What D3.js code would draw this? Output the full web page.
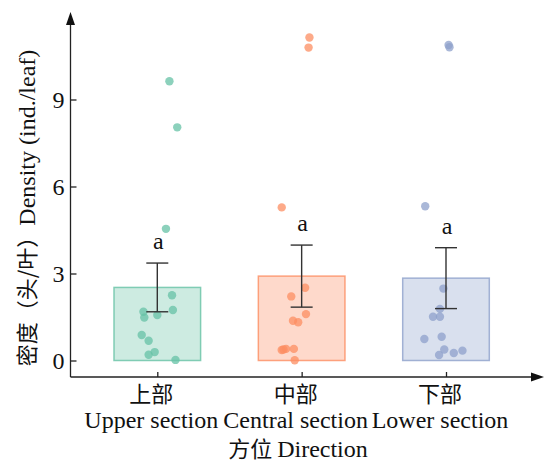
<!DOCTYPE html>
<html>
<head>
<meta charset="utf-8">
<script src="https://cdn.jsdelivr.net/npm/d3@7"></script>
<style>
  body { margin: 0; background: #fff; }
  text { font-family: "Liberation Serif", "Noto Sans CJK SC", serif; fill: #111; }
  .cjk { font-family: "Noto Sans CJK SC", sans-serif; }
</style>
</head>
<body>
<div id="chart"></div>
<script>
// categories and labels
const cats = ["上部", "中部", "下部"]
const catsEn = ["Upper section", "Central section", "Lower section"]
const colors = ["#66c2a5", "#fc8d62", "#8da0cb"]

// bar means and error (+/-)
const means = [2.52, 2.91, 2.84]
const errs = [0.84, 1.07, 1.05]
const sigLabels = ["a", "a", "a"]

// raw points per group, jitter given as a fraction of bar width
const upperPts = [9.63, 8.04, 4.54, 2.25, 1.74, 1.68, 1.48, 1.57, 0.88, 0.68, 0.29, 0.20, 0.02]
const upperJit = [0.14, 0.23, 0.10, 0.17, 0.18, -0.16, -0.15, 0.0, -0.18, -0.10, -0.03, -0.10, 0.21]
const centralPts = [11.14, 10.79, 5.28, 2.51, 2.21, 1.60, 1.37, 1.32, 0.36, 0.38, 0.40, 0.40, 0.01]
const centralJit = [0.09, 0.08, -0.23, 0.04, -0.12, 0.05, -0.10, -0.04, -0.23, -0.21, -0.18, -0.09, -0.08]
const lowerPts = [10.88, 10.80, 5.32, 2.48, 1.78, 1.51, 1.51, 0.74, 0.82, 0.38, 0.34, 0.26, 0.19]
const lowerJit = [0.03, 0.04, -0.24, -0.03, -0.07, -0.15, -0.07, -0.25, -0.05, -0.02, 0.19, 0.09, -0.08]

const yTicks = [0, 3, 6, 9]

const width = 545, height = 464
const axisX = 70.5, axisY = 377

const svg = d3.select("#chart").append("svg")
  .attr("width", width)
  .attr("height", height)

const x = d3.scalePoint().domain(cats).range([157.3, 446])
const barW = x.step() * 0.6
const y = d3.scaleLinear().domain([0, 12]).range([360.5, 12.5])

const groups = cats.map((c, i) => ({
  cat: c,
  mean: means[i],
  err: errs[i],
  color: colors[i],
  sig: sigLabels[i],
  pts: [upperPts, centralPts, lowerPts][i].map((v, j) => ({ v: v, j: [upperJit, centralJit, lowerJit][i][j] }))
}))

// bars
svg.selectAll("rect.bar")
  .data(groups)
  .enter()
  .append("rect")
  .attr("class", "bar")
  .attr("x", d => x(d.cat) - barW / 2)
  .attr("y", d => y(d.mean))
  .attr("width", barW)
  .attr("height", d => y(0) - y(d.mean))
  .attr("fill", d => d.color)
  .attr("fill-opacity", 0.33)
  .attr("stroke", d => d.color)
  .attr("stroke-opacity", 0.8)
  .attr("stroke-width", 1.5)

// points
groups.forEach(g => {
  svg.selectAll(null)
    .data(g.pts)
    .enter()
    .append("circle")
    .attr("cx", d => x(g.cat) + d.j * barW)
    .attr("cy", d => y(d.v))
    .attr("r", 4.2)
    .attr("fill", g.color)
    .attr("fill-opacity", 0.75)
})

// error bars
const eb = svg.selectAll("g.err")
  .data(groups)
  .enter()
  .append("g")
  .attr("class", "err")
  .attr("stroke", "#333")
  .attr("stroke-width", 1.4)

eb.append("line")
  .attr("x1", d => x(d.cat)).attr("x2", d => x(d.cat))
  .attr("y1", d => y(d.mean - d.err)).attr("y2", d => y(d.mean + d.err))
eb.append("line")
  .attr("x1", d => x(d.cat) - 11).attr("x2", d => x(d.cat) + 11)
  .attr("y1", d => y(d.mean + d.err)).attr("y2", d => y(d.mean + d.err))
eb.append("line")
  .attr("x1", d => x(d.cat) - 11).attr("x2", d => x(d.cat) + 11)
  .attr("y1", d => y(d.mean - d.err)).attr("y2", d => y(d.mean - d.err))

// significance letters
svg.selectAll("text.sig")
  .data(groups)
  .enter()
  .append("text")
  .attr("class", "sig")
  .attr("x", d => x(d.cat) + 1)
  .attr("y", d => y(d.mean + d.err) - 14)
  .attr("text-anchor", "middle")
  .attr("font-size", "24px")
  .text(d => d.sig)

// y axis
const yAxis = d3.axisLeft(y).tickValues(yTicks).tickSizeInner(-6).tickSizeOuter(0).tickPadding(6)
const yg = svg.append("g")
  .attr("transform", `translate(${axisX},0)`)
  .call(yAxis)
yg.select(".domain").remove()
yg.selectAll(".tick line").attr("stroke", "#222").attr("stroke-width", 1.3)
yg.selectAll(".tick text")
  .attr("font-family", "Liberation Serif")
  .attr("font-size", "24px")
  .attr("fill", "#111")

// x axis ticks
const xAxis = d3.axisBottom(x).tickSizeInner(-5).tickSizeOuter(0).tickFormat("")
const xg = svg.append("g")
  .attr("transform", `translate(0,${axisY})`)
  .call(xAxis)
xg.select(".domain").remove()
xg.selectAll(".tick line").attr("stroke", "#222").attr("stroke-width", 1.3)

// axis lines with arrows
svg.append("line")
  .attr("x1", axisX).attr("x2", axisX)
  .attr("y1", axisY).attr("y2", 20)
  .attr("stroke", "#222").attr("stroke-width", 1.3)
svg.append("line")
  .attr("x1", axisX).attr("x2", 536)
  .attr("y1", axisY).attr("y2", axisY)
  .attr("stroke", "#222").attr("stroke-width", 1.3)
svg.append("path")
  .attr("d", `M${axisX},12 L${axisX - 4.5},25 L${axisX + 4.5},25 Z`)
  .attr("fill", "#111")
svg.append("path")
  .attr("d", `M544,${axisY} L531,${axisY - 4.5} L531,${axisY + 4.5} Z`)
  .attr("fill", "#111")

// category labels
svg.selectAll("text.cat")
  .data(cats)
  .enter()
  .append("text")
  .attr("class", "cat cjk")
  .attr("x", d => x(d) - 6)
  .attr("y", 402)
  .attr("text-anchor", "middle")
  .attr("font-size", "22px")
  .text(d => d)

svg.selectAll("text.catEn")
  .data(catsEn)
  .enter()
  .append("text")
  .attr("class", "catEn")
  .attr("x", (d, i) => x(cats[i]) - 6)
  .attr("y", 428)
  .attr("text-anchor", "middle")
  .attr("font-size", "24px")
  .text(d => d)

// x title
const xt = svg.append("text")
  .attr("x", 298)
  .attr("y", 457)
  .attr("text-anchor", "middle")
  .attr("font-size", "24px")
xt.append("tspan").attr("class", "cjk").attr("font-size", "22px").text("方位 ")
xt.append("tspan").text("Direction")

// y title
const yt = svg.append("text")
  .attr("transform", "translate(35,208) rotate(-90)")
  .attr("text-anchor", "middle")
  .attr("font-size", "24px")
yt.append("tspan").attr("class", "cjk").attr("font-size", "22px").text("密度（头/叶）")
yt.append("tspan").text("Density (ind./leaf)")
</script>
</body>
</html>
